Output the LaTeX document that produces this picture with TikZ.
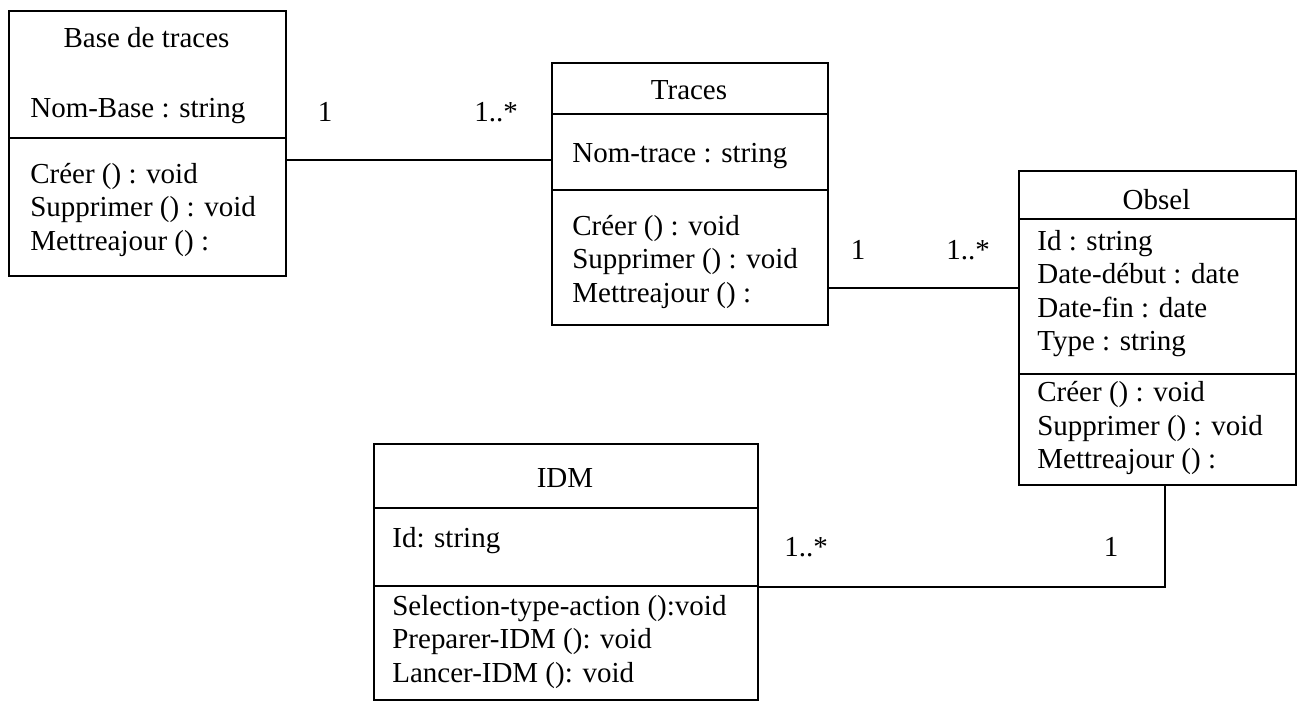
\documentclass[tikz,border=0pt]{standalone}
\usepackage{fontspec}
\setmainfont{Liberation Serif}
\usepackage{tikz}
\usetikzlibrary{positioning, calc}

\begin{document}
\begin{tikzpicture}[
        x=0.02cm, y=-0.02cm,
        font=\fontsize{16.5}{19}\selectfont,
        klass/.style = {draw, line width=1pt, rectangle, inner sep=0pt, anchor=north west},
        ttl/.style   = {inner sep=0pt, anchor=base},
        txt/.style   = {inner sep=0pt, anchor=base west},
        lines/.style = {inner sep=0pt, anchor=west, align=left},
        mult/.style  = {inner sep=0pt},
        sep/.style   = {line width=1pt},
        assoc/.style = {line width=1pt},
    ]
        \useasboundingbox (0,0) rectangle (1300,700);

        % Base de traces
        \node[klass, minimum width=5.54cm, minimum height=5.3cm] (base) at (8,10) {};
        \draw[sep] (base.west |- 0,138) -- (base.east |- 0,138);
        \node[ttl] (basettl) at (146.5,47) {Base de traces};
        \node[txt] (baseattr) at (30,117) {Nom-Base : string};
        \node[lines] (baseops) at (30,210) {Créer () : void\\Supprimer () : void\\Mettreajour () :};

        % Traces
        \node[klass, minimum width=5.52cm, minimum height=5.24cm] (traces) at (551,62) {};
        \draw[sep] (traces.west |- 0,114) -- (traces.east |- 0,114);
        \draw[sep] (traces.west |- 0,190) -- (traces.east |- 0,190);
        \node[ttl] (trttl) at (689,99) {Traces};
        \node[txt] (trattr) at (572,162) {Nom-trace : string};
        \node[lines] (trops) at (572,262) {Créer () : void\\Supprimer () : void\\Mettreajour () :};

        % Obsel
        \node[klass, minimum width=5.54cm, minimum height=6.28cm] (obsel) at (1018,170) {};
        \draw[sep] (obsel.west |- 0,219) -- (obsel.east |- 0,219);
        \draw[sep] (obsel.west |- 0,374) -- (obsel.east |- 0,374);
        \node[ttl] (obttl) at (1156.5,209) {Obsel};
        \node[lines] (obattr) at (1037,293.5) {Id : string\\Date-début : date\\Date-fin : date\\Type : string};
        \node[lines] (obops) at (1037,428) {Créer () : void\\Supprimer () : void\\Mettreajour () :};

        % IDM
        \node[klass, minimum width=7.68cm, minimum height=5.12cm] (idm) at (373,443) {};
        \draw[sep] (idm.west |- 0,508) -- (idm.east |- 0,508);
        \draw[sep] (idm.west |- 0,586) -- (idm.east |- 0,586);
        \node[ttl] (idmttl) at (565,487) {IDM};
        \node[txt] (idmattr) at (392,547) {Id: string};
        \node[lines] (idmops) at (392,642) {Selection-type-action ():void\\Preparer-IDM (): void\\Lancer-IDM (): void};

        % Associations
        \coordinate (bt) at (0,160);
        \coordinate (to) at (0,288);
        \coordinate (io) at (1165,587);
        \draw[assoc] (base.east |- bt) -- (traces.west |- bt);
        \draw[assoc] (traces.east |- to) -- (obsel.west |- to);
        \draw[assoc] (idm.east |- io) -- (io) -- (io |- obsel.south);

        % Multiplicities
        \node[mult] (m1) at (325,112) {1};
        \node[mult] (m2) at (496,112) {1..*};
        \node[mult] (m3) at (858,250) {1};
        \node[mult] (m4) at (968,250) {1..*};
        \node[mult] (m5) at (806,547) {1..*};
        \node[mult] (m6) at (1111,547) {1};
    \end{tikzpicture}
\end{document}
